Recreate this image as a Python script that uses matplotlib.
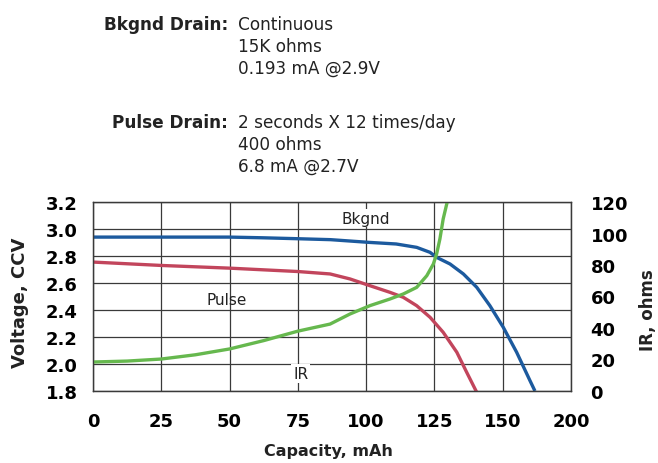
import matplotlib
matplotlib.use('Agg')
import matplotlib.pyplot as plt

# values (capacity in mAh)
cap_bkgnd = [0, 25, 50, 62, 75, 87, 101, 111, 118.5, 123.4, 125.8, 130.7, 135.6, 140.5, 145.3, 150.2, 155.1, 160, 161.8]
v_bkgnd = [2.94, 2.94, 2.94, 2.935, 2.928, 2.921, 2.901, 2.889, 2.864, 2.827, 2.79, 2.741, 2.667, 2.568, 2.432, 2.272, 2.087, 1.876, 1.80]

cap_pulse = [0, 25, 50, 75, 86.8, 94.1, 101.4, 108.7, 113.6, 118.5, 123.4, 128.2, 133.2, 136.8, 140.5]
v_pulse = [2.755, 2.73, 2.71, 2.685, 2.667, 2.63, 2.58, 2.531, 2.494, 2.432, 2.346, 2.235, 2.087, 1.939, 1.79]

cap_ir = [0, 12.5, 25, 37.5, 50, 62.5, 75, 86.8, 94.1, 101.4, 108.7, 113.6, 118.5, 122.2, 124.6, 125.8, 127, 128.2, 129.5, 130.3]
ir_ohms = [18.4, 19, 20.3, 23, 26.7, 32, 38, 42.5, 48.9, 54.2, 58.4, 61.6, 65.8, 73.2, 80.6, 87, 96.5, 109.2, 118.7, 125]

x_ticks = [0, 25, 50, 75, 100, 125, 150, 175]
x_labels = ['0', '25', '50', '75', '100', '125', '150', '200']
v_ticks = [1.8, 2.0, 2.2, 2.4, 2.6, 2.8, 3.0, 3.2]
ir_ticks = [0, 20, 40, 60, 80, 100, 120]

header = [
    ('Bkgnd Drain:', ['Continuous', '15K ohms', '0.193 mA @2.9V']),
    ('Pulse Drain:', ['2 seconds X 12 times/day', '400 ohms', '6.8 mA @2.7V']),
]

W, H = 658, 464
fig = plt.figure(figsize=(W / 100, H / 100), dpi=100)
ax = fig.add_axes([93 / W, 72 / H, 478 / W, 189 / H])
ax2 = ax.twinx()

grid_col = '#3a3a3a'
txt_col = '#222222'
ax.set_xlim(0, 175)
ax.set_ylim(1.8, 3.2)
ax.set_xticks(x_ticks)
ax.set_xticklabels(x_labels)
ax.set_yticks(v_ticks)
ax.set_yticklabels([f'{v:.1f}' for v in v_ticks])
ax.grid(True, color=grid_col, linewidth=0.9)
ax.tick_params(length=0, labelsize=13)
ax.tick_params(axis='y', pad=11)
ax.tick_params(axis='x', pad=15)
for lab in ax.get_xticklabels() + ax.get_yticklabels():
    lab.set_fontweight('bold')

ax2.set_ylim(0, 120)
ax2.set_yticks(ir_ticks)
ax2.tick_params(length=0, labelsize=13, pad=14)
for lab in ax2.get_yticklabels():
    lab.set_fontweight('bold')

for a in (ax, ax2):
    for s in a.spines.values():
        s.set_color(grid_col)
        s.set_linewidth(0.9)

ax.plot(cap_bkgnd, v_bkgnd, color='#1c5a9e', linewidth=2.4, solid_capstyle='butt', solid_joinstyle='round')
ax.plot(cap_pulse, v_pulse, color='#c2455c', linewidth=2.4, solid_capstyle='butt', solid_joinstyle='round')
ax2.plot(cap_ir, ir_ohms, color='#66b84e', linewidth=2.4, solid_capstyle='butt', solid_joinstyle='round')

ax.text(100, 3.08, 'Bkgnd', fontsize=11, ha='center', va='center', color=txt_col,
        bbox=dict(facecolor='white', edgecolor='none', pad=1.0), zorder=5)
ax.text(49, 2.48, 'Pulse', fontsize=11, ha='center', va='center', color=txt_col)
ax.text(76, 1.93, 'IR', fontsize=11, ha='center', va='center', color=txt_col,
        bbox=dict(facecolor='white', edgecolor='none', pad=1.5), zorder=5)

fig.text(328 / W, 1 - 452 / H, 'Capacity, mAh', fontsize=11.5, fontweight='bold',
         ha='center', va='center', color=txt_col)
fig.text(20 / W, 1 - 303 / H, 'Voltage, CCV', fontsize=13, fontweight='bold',
         rotation=90, ha='center', va='center', color=txt_col)
fig.text(648 / W, 1 - 310 / H, 'IR, ohms', fontsize=12, fontweight='bold',
         rotation=90, ha='center', va='center', color=txt_col)

# header block
y0 = 1 - 30 / H
dy = 22 / H
block_gap = 98 / H
for i, (title, lines) in enumerate(header):
    yb = y0 - i * block_gap
    fig.text(228 / W, yb, title, fontsize=12.2, fontweight='bold', ha='right', va='baseline', color=txt_col)
    for j, line in enumerate(lines):
        fig.text(238 / W, yb - j * dy, line, fontsize=12.2, ha='left', va='baseline', color=txt_col)

fig.savefig('out.png', dpi=100)
